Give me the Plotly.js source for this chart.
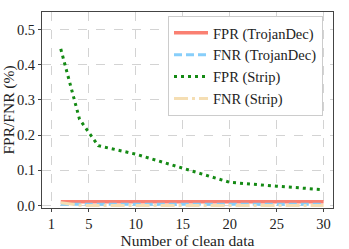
<!DOCTYPE html>
<html><head><meta charset="utf-8">
<script src="https://cdn.plot.ly/plotly-3.0.1.min.js"></script>
<style>html,body{margin:0;padding:0;background:#fff}#c{width:349px;height:249px}</style>
</head><body><div id="c"></div>
<script>
const xStrip = [2, 3, 4, 5, 6, 10, 15, 20, 25, 30];
const fprStrip = [0.445, 0.345, 0.245, 0.207, 0.170, 0.146, 0.106, 0.066, 0.055, 0.045];
const fnrStrip = [0.008, 0.004, 0.001, 0.0, 0.0, 0.0, 0.0, 0.0, 0.0, 0.0];
const xTD = [2, 30];
const fprTD = [0.011, 0.011];
const fnrTD = [0.004, 0.004];
const seriesNames = ["FPR (TrojanDec)", "FNR (TrojanDec)", "FPR (Strip)", "FNR (Strip)"];
const xTicks = [1, 5, 10, 15, 20, 25, 30];
const yTicks = [0.0, 0.1, 0.2, 0.3, 0.4, 0.5];

const font = "Liberation Serif, DejaVu Serif, serif";
const traces = [
  {x: xTD, y: fprTD, name: seriesNames[0], mode: "lines", line: {color: "#fa8072", width: 3.5}},
  {x: xTD, y: fnrTD, name: seriesNames[1], mode: "lines", line: {color: "#87cefa", width: 3, dash: "8px,4px"}},
  {x: xStrip, y: fprStrip, name: seriesNames[2], mode: "lines", line: {color: "#148a14", width: 3, dash: "3px,4px"}},
  {x: xStrip, y: fnrStrip, name: seriesNames[3], mode: "lines", line: {color: "#f5deb3", width: 3, dash: "14px,4px,3px,4px"}}
];
const layout = {
  width: 349, height: 249,
  margin: {l: 42, r: 16, t: 12, b: 41},
  paper_bgcolor: "#fff", plot_bgcolor: "#fff",
  font: {family: font, size: 14, color: "#222"},
  showlegend: true,
  legend: {x: 0.433, y: 0.98, xanchor: "left", yanchor: "top",
           bgcolor: "#fff", bordercolor: "#ccc", borderwidth: 1,
           font: {family: font, size: 14.5, color: "#222"}, tracegroupgap: 0, itemwidth: 34},
  xaxis: {range: [0.0, 31.0], tickvals: xTicks, ticktext: xTicks.map(String),
          showgrid: true, gridcolor: "#c8c8c8", griddash: "dash", gridwidth: 0.8,
          showline: true, linecolor: "#444", linewidth: 1, mirror: true,
          ticks: "outside", ticklen: 3, tickcolor: "#444", zeroline: false,
          tickfont: {family: font, size: 14.5, color: "#222"},
          title: {text: "Number of clean data", font: {family: font, size: 15.5, color: "#222"}, standoff: 1}},
  yaxis: {range: [-0.007, 0.55], tickvals: yTicks, ticktext: yTicks.map(v => v.toFixed(1)),
          showgrid: true, gridcolor: "#c8c8c8", griddash: "dash", gridwidth: 0.8,
          showline: true, linecolor: "#444", linewidth: 1, mirror: true,
          ticks: "outside", ticklen: 3, tickcolor: "#444", zeroline: false,
          tickfont: {family: font, size: 14.5, color: "#222"},
          title: {text: "FPR/FNR (%)", font: {family: font, size: 15.5, color: "#222"}, standoff: 1}}
};
Plotly.newPlot("c", traces, layout, {staticPlot: true, displayModeBar: false});
</script></body></html>
